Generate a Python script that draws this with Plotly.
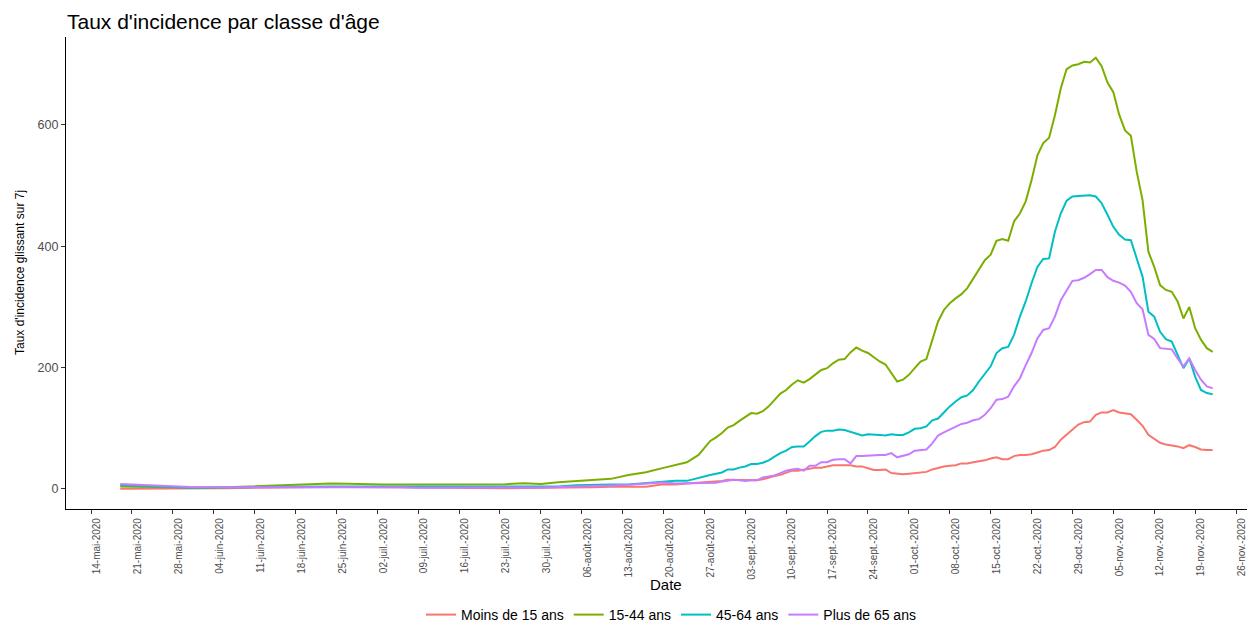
import pandas as pd
import plotly.graph_objects as go

# dates: every 3 days (19 mai -> 20 aout), every 2 days (22 -> 28 aout), then daily
sparse_dates = list(pd.date_range("2020-05-19", "2020-08-20", freq="3D")) + \
    list(pd.date_range("2020-08-22", "2020-08-28", freq="2D"))
daily_dates = list(pd.date_range("2020-08-29", "2020-11-22", freq="D"))
dates = sparse_dates + daily_dates

moins_15 = [
    0, 0, 0.5, 1, 1, 1, 1, 1.5, 2, 2.5, 3, 3, 3, 3, 3, 3, 2.5, 2, 2,
    2, 1.6, 0.8, 1, 1.6, 1.6, 2, 2.2, 2.8, 3.3, 3.3, 3.3, 7.7,
    7.1, 8.8, 9.9, 12.1,
    12, 13, 15, 15, 15, 14, 14, 14, 16, 19, 21, 23, 27, 30, 30, 31, 33, 35,
    35, 37, 39, 39, 39, 39, 37, 37, 34, 31, 31, 32, 26, 25, 24, 25, 26, 27,
    28, 32, 35, 37, 38, 39, 42, 42, 44,
    45, 47, 50, 52, 49, 49, 54, 56, 56, 57, 60, 63, 64, 69, 81, 89, 97, 106,
    110, 111, 122, 126, 126, 130, 126, 125, 123, 114, 104, 89, 83, 76, 73,
    72, 70, 67, 72, 69, 65, 64, 64,
]
ans_15_44 = [
    4, 3.5, 3, 2.5, 2, 2, 2.5, 3.5, 4.5, 6, 7.5, 8.5, 9, 8.5, 7.5, 7, 7, 7, 7,
    6.6, 6.6, 7.2, 7.7, 9.3, 8.2, 11, 12.6, 14.3, 16.5, 23, 27.4, 34.6,
    39, 43.9, 56, 79,
    85, 92, 101, 105, 112, 118, 125, 124, 128, 136, 147, 157, 163, 172, 179,
    175, 181, 188, 196, 199, 207, 213, 214, 225, 233, 228, 224, 217, 210, 205,
    191, 177, 180, 188, 199, 210, 214, 246, 276, 295, 306, 314, 321, 331, 346,
    362, 377, 386, 409, 412, 409, 441, 454, 474, 509, 550, 570, 579, 616, 660,
    692, 698, 700, 704, 703, 711, 697, 670, 654, 617, 591, 582, 523, 476, 391,
    366, 336, 328, 325, 309, 281, 300, 265, 246, 232, 226,
]
ans_45_64 = [
    6.5, 5, 4, 3, 2, 2, 2, 2.5, 3, 3.5, 4, 4, 4, 4, 4, 4, 3.5, 3.5, 3.5,
    3, 3, 3.3, 3.5, 3.8, 3.8, 4, 6, 7.1, 7.1, 7.1, 9.3, 11.5,
    13.2, 13.2, 18.7, 23,
    25, 27, 32, 32, 35, 37, 41, 41, 43, 47, 53, 59, 63, 69, 70, 70, 78, 87,
    94, 96, 96, 98, 97, 94, 92, 88, 90, 90, 89, 88, 90, 89, 89, 93, 99, 100,
    103, 113, 116, 126, 136, 144, 151, 154, 163,
    177, 190, 202, 224, 232, 234, 254, 284, 309, 339, 366, 379, 380, 424, 454,
    475, 482, 483, 484, 484, 482, 471, 452, 432, 419, 411, 410, 380, 350, 292,
    284, 259, 247, 243, 221, 199, 215, 185, 163, 158, 156,
]
plus_65 = [
    8, 6.5, 5, 4, 3, 2.5, 2.5, 2.5, 3, 3, 3.5, 3.5, 3.5, 3.5, 3.5, 3, 2.5, 2, 2,
    1.5, 1.6, 1.8, 2, 2.2, 2.2, 3, 3.5, 4.5, 5.5, 6.6, 8.2, 10.5,
    9, 9.3, 10, 10.5,
    10, 12, 13, 15, 14, 13, 14, 14, 19, 20, 22, 26, 30, 32, 33, 30, 38, 38,
    44, 44, 48, 49, 49, 42, 54, 54, 55, 55, 56, 56, 59, 52, 54, 57, 63, 64,
    65, 75, 88, 93, 98, 103, 107, 109, 113,
    115, 122, 133, 147, 148, 152, 169, 182, 204, 224, 248, 262, 265, 284, 311,
    328, 343, 344, 348, 354, 361, 361, 349, 343, 340, 335, 325, 306, 296, 254,
    247, 232, 231, 230, 215, 202, 215, 196, 180, 169, 166,
]

series = {
    "Moins de 15 ans": (moins_15, "#F8766D"),
    "15-44 ans": (ans_15_44, "#7CAE00"),
    "45-64 ans": (ans_45_64, "#00BFC4"),
    "Plus de 65 ans": (plus_65, "#C77CFF"),
}

tick_dates = list(pd.date_range("2020-05-14", "2020-11-26", freq="7D"))
tick_labels = [
    "14-mai-2020", "21-mai-2020", "28-mai-2020", "04-juin-2020",
    "11-juin-2020", "18-juin-2020", "25-juin-2020", "02-juil.-2020",
    "09-juil.-2020", "16-juil.-2020", "23-juil.-2020", "30-juil.-2020",
    "06-août-2020", "13-août-2020", "20-août-2020", "27-août-2020",
    "03-sept.-2020", "10-sept.-2020", "17-sept.-2020", "24-sept.-2020",
    "01-oct.-2020", "08-oct.-2020", "15-oct.-2020", "22-oct.-2020",
    "29-oct.-2020", "05-nov.-2020", "12-nov.-2020", "19-nov.-2020",
    "26-nov.-2020",
]

FONT = "Liberation Sans, Arial, sans-serif"
# the page body adds an 8px margin, so the figure is sized/placed to compensate
OFF = 8
W, H = 1255 - OFF, 623 - OFF
L, T = 66 - OFF, 37 - OFF
X_AXIS_Y = 509 - OFF
B = H - X_AXIS_Y
PW, PH = W - L, H - T - B

fig = go.Figure()
for name, (vals, col) in series.items():
    fig.add_trace(
        go.Scatter(
            x=dates,
            y=vals,
            mode="lines",
            name=name,
            line=dict(color=col, width=2),
        )
    )

fig.update_layout(
    width=W,
    height=H,
    margin=dict(l=L, r=0, t=T, b=B, autoexpand=False),
    plot_bgcolor="white",
    paper_bgcolor="white",
    font=dict(family=FONT, color="black"),
    title=dict(
        text="Taux d'incidence par classe d'âge",
        x=(67 - OFF) / W,
        xanchor="left",
        xref="container",
        y=1 - (22 - OFF) / H,
        yanchor="middle",
        font=dict(size=21, color="black", family=FONT),
    ),
    showlegend=True,
    legend=dict(
        orientation="h",
        x=(671 - OFF - L) / PW,
        xanchor="center",
        y=-(615 - 509) / PH,
        yanchor="middle",
        font=dict(size=14, color="black"),
        itemwidth=30,
        borderwidth=0,
        bgcolor="rgba(0,0,0,0)",
    ),
)
fig.update_xaxes(
    range=["2020-05-09 17:13", "2020-11-29 06:00"],
    tickvals=tick_dates,
    ticktext=tick_labels,
    tickangle=-90,
    tickfont=dict(size=10, color="#4D4D4D"),
    ticklabelshift=6,
    ticks="outside",
    ticklen=4,
    tickcolor="#333333",
    showline=True,
    linecolor="black",
    linewidth=1.2,
    showgrid=False,
    zeroline=False,
    automargin=False,
)
fig.update_yaxes(
    range=[-33.2, 745],
    tickvals=[0, 200, 400, 600],
    tickfont=dict(size=12.5, color="#4D4D4D"),
    ticks="outside",
    ticklen=4,
    tickcolor="#333333",
    showline=True,
    linecolor="black",
    linewidth=1.2,
    showgrid=False,
    zeroline=False,
    automargin=False,
)
fig.add_annotation(
    text="Date",
    xref="paper", yref="paper",
    x=(666 - OFF - L) / PW, y=-(584 - 509) / PH,
    xanchor="center", yanchor="middle",
    showarrow=False,
    font=dict(size=15, color="black"),
)
fig.add_annotation(
    text="Taux d'incidence glissant sur 7j",
    xref="paper", yref="paper",
    x=(20 - OFF - L) / PW, y=0.5,
    xanchor="center", yanchor="middle",
    textangle=-90,
    showarrow=False,
    font=dict(size=12, color="black"),
)

fig.write_html("out.html")
